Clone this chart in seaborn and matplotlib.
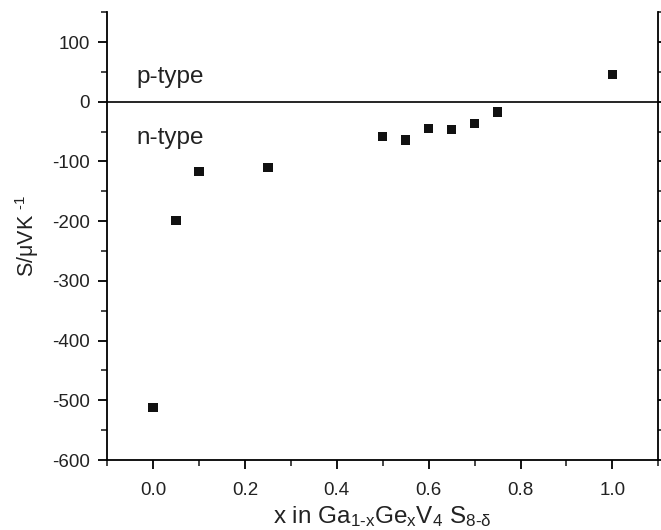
import matplotlib
matplotlib.use("Agg")
import matplotlib.pyplot as plt
import seaborn as sns
import pandas as pd
from matplotlib.ticker import MultipleLocator

x_ge = [0.0, 0.05, 0.10, 0.25, 0.50, 0.55, 0.60, 0.65, 0.70, 0.75, 1.0]
seebeck = [-512, -199, -117, -110, -58, -64, -45, -47, -36, -17, 46]
x_ticks = [0.0, 0.2, 0.4, 0.6, 0.8, 1.0]
y_ticks = [-600, -500, -400, -300, -200, -100, 0, 100]

df = pd.DataFrame({"x": x_ge, "S": seebeck})

sns.set_theme(style="ticks")
plt.rcParams["font.family"] = ["Liberation Sans", "DejaVu Sans"]
plt.rcParams["mathtext.fontset"] = "custom"
plt.rcParams["mathtext.rm"] = "Liberation Sans"
plt.rcParams["mathtext.it"] = "Liberation Sans"

fig = plt.figure(figsize=(6.61, 5.30), dpi=100)
ax = fig.add_axes([0.162, 0.132, 0.834, 0.845])

sns.scatterplot(data=df, x="x", y="S", marker="s", s=45, color="#111111",
                edgecolor="none", ax=ax, legend=False)
ax.axhline(0, color="black", lw=1.2, zorder=1)

ax.set_xlim(-0.1, 1.1)
ax.set_ylim(-600, 150)
ax.set_xticks(x_ticks)
ax.set_yticks(y_ticks)
ax.set_xticklabels([f"{v:.1f}" for v in x_ticks])
ax.set_yticklabels([str(v) for v in y_ticks])
ax.xaxis.set_minor_locator(MultipleLocator(0.1))
ax.yaxis.set_minor_locator(MultipleLocator(50))

for s in ["left", "right", "bottom"]:
    ax.spines[s].set_visible(True)
    ax.spines[s].set_linewidth(1.3)
    ax.spines[s].set_color("black")
ax.spines["top"].set_visible(False)

ax.tick_params(axis="both", which="major", direction="out", length=6.5, width=1.3,
               labelsize=13.5, colors="black", labelcolor="#222222")
ax.tick_params(axis="both", which="minor", direction="out", length=4, width=1.2)
ax.tick_params(axis="y", which="major", pad=6)
ax.tick_params(axis="x", which="major", pad=9)
ax.tick_params(axis="y", which="both", right=True, labelright=False)

ax.text(-0.037, 31, "p-type", fontsize=17.5, va="baseline", ha="left", color="#222222")
ax.text(-0.037, -70, "n-type", fontsize=17.5, va="baseline", ha="left", color="#222222")

ax.set_xlabel(r"x in Ga$_{1\text{-}x}$Ge$_x$V$_4$ S$_{8\text{-}\delta}$", fontsize=17.5,
              color="#222222", labelpad=4)
ax.set_ylabel(r"S/$\mu$VK $^{\text{-}1}$", fontsize=15.5, color="#222222", labelpad=8)

fig.savefig("out.png", dpi=100)
